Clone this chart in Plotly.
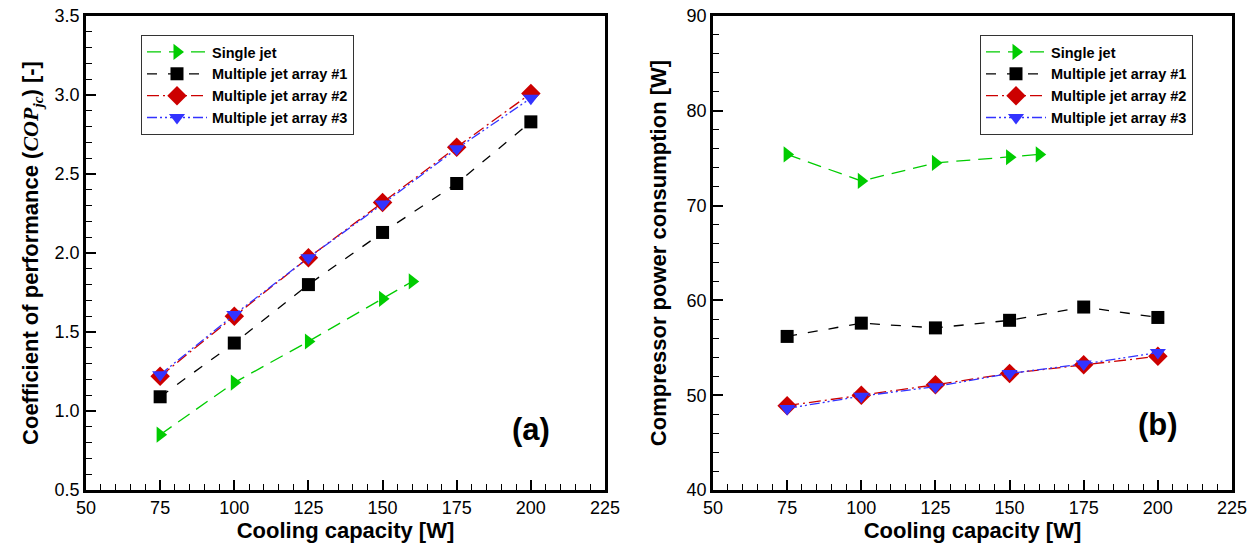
import plotly.graph_objects as go

# ---------------- data ----------------
x_single = [75, 100, 125, 150, 160]
x_multi = [75, 100, 125, 150, 175, 200]

cop_single = [0.85, 1.18, 1.44, 1.71, 1.82]
cop_m1 = [1.09, 1.43, 1.80, 2.13, 2.44, 2.83]
cop_m2 = [1.22, 1.60, 1.97, 2.32, 2.67, 3.01]
cop_m3 = [1.23, 1.61, 1.97, 2.31, 2.66, 2.98]

pw_single = [75.4, 72.6, 74.5, 75.1, 75.4]
pw_m1 = [56.2, 57.6, 57.1, 57.9, 59.3, 58.2]
pw_m2 = [48.9, 50.0, 51.1, 52.3, 53.2, 54.1]
pw_m3 = [48.6, 49.9, 50.9, 52.3, 53.3, 54.5]

names = ["Single jet", "Multiple jet array #1", "Multiple jet array #2", "Multiple jet array #3"]
x_ticks = [50, 75, 100, 125, 150, 175, 200, 225]
y1_ticks = [0.5, 1.0, 1.5, 2.0, 2.5, 3.0, 3.5]
y2_ticks = [40, 50, 60, 70, 80, 90]

# ---------------- styles ----------------
colors = ["#00cc00", "#000000", "#cc0000", "#3333ff"]
symbols = ["triangle-right", "square", "diamond", "triangle-down"]
dashes = ["14px,8px", "10px,11px", "12px,4px,2px,4px", "10px,3px,2px,3px,2px,3px"]
msizes = [14, 13, 15, 14]

FONT = "Liberation Sans, Arial, sans-serif"

fig = go.Figure()

left_sets = [(x_single, cop_single), (x_multi, cop_m1), (x_multi, cop_m2), (x_multi, cop_m3)]
right_sets = [(x_single, pw_single), (x_multi, pw_m1), (x_multi, pw_m2), (x_multi, pw_m3)]

for i, (xs, ys) in enumerate(left_sets):
    fig.add_trace(go.Scatter(
        x=xs, y=ys, mode="lines+markers", name=names[i],
        line=dict(color=colors[i], width=1.3, dash=dashes[i]),
        marker=dict(symbol=symbols[i], size=msizes[i], color=colors[i], line=dict(width=0)),
        xaxis="x", yaxis="y", legend="legend",
    ))
for i, (xs, ys) in enumerate(right_sets):
    fig.add_trace(go.Scatter(
        x=xs, y=ys, mode="lines+markers", name=names[i],
        line=dict(color=colors[i], width=1.3, dash=dashes[i]),
        marker=dict(symbol=symbols[i], size=msizes[i], color=colors[i], line=dict(width=0)),
        xaxis="x2", yaxis="y2", legend="legend2",
    ))

W, H = 1256, 550
def fx(px):
    return px / W
def fy(py):
    return (H - py) / H

common_axis = dict(
    showline=True, linecolor="black", linewidth=2.5, mirror=True,
    ticks="inside", ticklen=10, tickwidth=2, tickcolor="black",
    showgrid=False, zeroline=False, automargin=False,
    ticklabeloverflow="allow",
    tickfont=dict(family=FONT, size=18, color="black"),
)

xaxis_common = dict(
    common_axis, range=[50, 225], tickvals=x_ticks,
    minor=dict(ticks="inside", ticklen=6, tickwidth=1, tickcolor="black", dtick=5, showgrid=False),
    title=dict(text="<b>Cooling capacity [W]</b>", font=dict(family=FONT, size=22, color="black"), standoff=4),
)

legend_common = dict(
    xanchor="left", yanchor="top",
    bgcolor="white", bordercolor="#333333", borderwidth=1,
    font=dict(family=FONT, size=14.5, color="black", weight="bold"),
    itemwidth=60, tracegroupgap=0,
)

fig.update_layout(
    width=W, height=H,
    margin=dict(l=0, r=0, t=0, b=0, autoexpand=False),
    paper_bgcolor="white", plot_bgcolor="white",
    font=dict(family=FONT, color="black"),
    xaxis=dict(xaxis_common, domain=[fx(86), fx(605)], anchor="y"),
    yaxis=dict(
        common_axis, range=[0.5, 3.5], tickvals=y1_ticks, ticktext=["%.1f" % v for v in y1_ticks],
        domain=[fy(490), fy(16)], anchor="x",
        minor=dict(ticks="inside", ticklen=6, tickwidth=1, tickcolor="black", dtick=0.1, showgrid=False),
        title=dict(
            text="<b>Coefficient of performance (<span style=\"font-family:'Liberation Serif',serif;font-style:italic\">COP</span><sub><span style=\"font-family:'Liberation Serif',serif;font-style:italic\">jc</span></sub>) [-]</b>",
            font=dict(family=FONT, size=22, color="black"), standoff=10),
    ),
    xaxis2=dict(xaxis_common, domain=[fx(713), fx(1232)], anchor="y2"),
    yaxis2=dict(
        common_axis, range=[40, 90], tickvals=y2_ticks,
        domain=[fy(490), fy(16)], anchor="x2",
        minor=dict(ticks="inside", ticklen=6, tickwidth=1, tickcolor="black", dtick=2, showgrid=False),
        title=dict(text="<b>Compressor power consumption [W]</b>",
                   font=dict(family=FONT, size=22, color="black"), standoff=14),
    ),
    legend=dict(legend_common, x=fx(141), y=fy(35)),
    legend2=dict(legend_common, x=fx(980), y=fy(35)),
    annotations=[
        dict(text="<b>(a)</b>", x=200, y=0.88, xref="x", yref="y", showarrow=False,
             font=dict(family=FONT, size=31, color="black")),
        dict(text="<b>(b)</b>", x=200, y=46.9, xref="x2", yref="y2", showarrow=False,
             font=dict(family=FONT, size=31, color="black")),
    ],
)

fig.write_html("out.html",
               config={"displayModeBar": False},
               post_script="document.body.style.margin='0';document.body.style.overflow='hidden';")
